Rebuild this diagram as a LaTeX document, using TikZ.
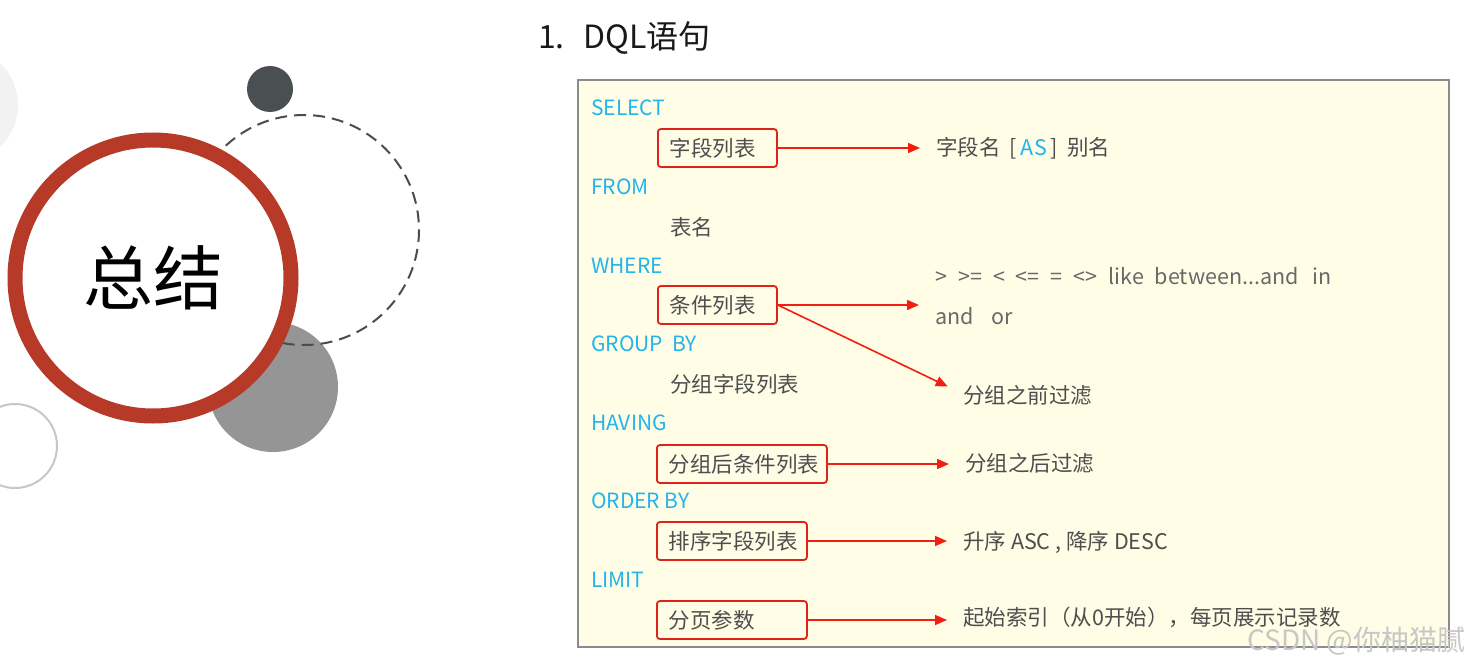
\documentclass[tikz,border=0pt]{standalone}
\usepackage{fontspec}
\setmainfont{Noto Sans CJK SC}
\usepackage{xcolor}
\definecolor{keyBlue}{RGB}{35,180,235}
\definecolor{textGray}{RGB}{78,78,78}
\definecolor{opsGray}{RGB}{105,105,105}
\definecolor{boxRed}{RGB}{222,36,26}
\definecolor{arrowRed}{RGB}{242,30,18}
\definecolor{paneYellow}{RGB}{255,253,230}
\definecolor{paneBorder}{RGB}{140,140,140}
\definecolor{ringRed}{RGB}{183,58,40}
\definecolor{dotDark}{RGB}{74,79,82}
\definecolor{dotGray}{RGB}{149,149,149}
\usepackage{tikz}
\usetikzlibrary{
    arrows.meta,
    positioning,
    calc
}
\newcommand{\gapOps}{\hspace{11pt}}

\begin{document}
\begin{tikzpicture}[
    x=1pt, y=-1pt,
    kwText/.style={
        font=\fontsize{21}{25}\selectfont, text=keyBlue,
        anchor=west, inner sep=0pt
    },
    itemText/.style={
        font=\fontsize{21.5}{25}\selectfont, text=textGray,
        anchor=west, inner sep=0pt
    },
    fieldBox/.style={
        rectangle, rounded corners=3pt,
        draw=boxRed, line width=1.8pt,
        font=\fontsize{21.5}{25}\selectfont, text=textGray,
        anchor=west, align=left, text width=#1,
        inner xsep=12pt, inner ysep=0pt, minimum height=38pt
    },
    noteText/.style={
        font=\fontsize{21.5}{25}\selectfont, text=textGray,
        anchor=west, inner xsep=8pt, inner ysep=0pt
    },
    opsText/.style={
        font=\fontsize{21.5}{25}\selectfont, text=opsGray,
        anchor=west, inner xsep=8pt, inner ysep=0pt
    },
    redArrow/.style={
        draw=arrowRed, line width=1.6pt,
        -{Triangle[length=12pt,width=10pt]}, shorten >=8pt
    }
]
    \useasboundingbox (0,0) rectangle (1471,671);
    \fill[white] (0,0) rectangle (1471,671);

    % Decoration circles
    \fill[black!5] (-40,105) circle (58);
    \draw[black!22, line width=2pt] (15,446) circle (42);
    \fill[dotGray] (273,387) circle (65);
    \draw[black!70, line width=2pt, dash pattern=on 12pt off 7pt] (304,230) circle (115);
    \fill[dotDark] (270,89) circle (23);
    \draw[ringRed, line width=15pt, fill=white] (153,278) circle (138);
    \node[font=\fontsize{70}{80}\selectfont, text=black] (summary) at (153,278) {总结};

    % Title and pane
    \node[anchor=west, inner sep=0pt, font=\fontsize{32}{38}\selectfont, text=black!90]
        (title) at (538,38) {1.\hspace{19pt}DQL语句};
    \draw[draw=paneBorder, fill=paneYellow, line width=1.2pt] (578,80) rectangle (1449,647);

    % Keywords
    \node[kwText] (kwSelect) at (591,108) {SELECT};
    \node[kwText] (kwFrom)   at (591,187) {FROM};
    \node[kwText] (kwWhere)  at (591,266) {WHERE};
    \node[kwText] (kwGroup)  at (591,344) {GROUP~~BY};
    \node[kwText] (kwHaving) at (591,423) {HAVING};
    \node[kwText] (kwOrder)  at (591,501) {ORDER BY};
    \node[kwText] (kwLimit)  at (591,580) {LIMIT};

    % Clause contents
    \node[fieldBox=95pt]  (fields)   at (657,148) {字段列表};
    \node[itemText]       (tables)   at (670,227) {表名};
    \node[fieldBox=95pt]  (conds)    at (657,305) {条件列表};
    \node[itemText]       (groupBy)  at (670,384) {分组字段列表};
    \node[fieldBox=146pt] (having)   at (656,464) {分组后条件列表};
    \node[fieldBox=126pt] (orderBy)  at (656,541) {排序字段列表};
    \node[fieldBox=126pt] (paging)   at (656,620) {分页参数};

    % Notes
    \node[noteText] (alias) at (928,148)
        {字段名\hspace{9pt}[\hspace{4pt}\textcolor{keyBlue}{AS}\hspace{4pt}]\hspace{9pt}别名};
    \node[opsText] (ops) at (927,276)
        {>\gapOps>=\gapOps<\gapOps<=\gapOps=\gapOps<>\gapOps like\gapOps between...and\hspace{14pt}in};
    \node[opsText] (andOr) at (927,316) {and\hspace{18pt}or};
    \node[noteText] (preFilter)  at (955,395) {分组之前过滤};
    \node[noteText] (postFilter) at (957,463) {分组之后过滤};
    \node[noteText] (sortNote)   at (955,542) {升序 ASC , 降序 DESC};
    \node[noteText] (pageNote)   at (955,617) {起始索引（从0开始），每页展示记录数};

    % Arrows
    \draw[redArrow] (fields.east) -- (fields.east -| alias.west);
    \draw[redArrow] (conds.east) -- (conds.east -| ops.west);
    \draw[redArrow] (conds.east) -- ([yshift=5pt]preFilter.west);
    \draw[redArrow] (having.east) -- (having.east -| postFilter.west);
    \draw[redArrow] (orderBy.east) -- (orderBy.east -| sortNote.west);
    \draw[redArrow] (paging.east) -- (paging.east -| pageNote.west);

    % Watermark
    \node[anchor=west, inner sep=0pt, font=\fontsize{28}{32}\selectfont, text=black!22]
        (mark) at (1247,641) {CSDN @你柚猫腻};
\end{tikzpicture}
\end{document}
